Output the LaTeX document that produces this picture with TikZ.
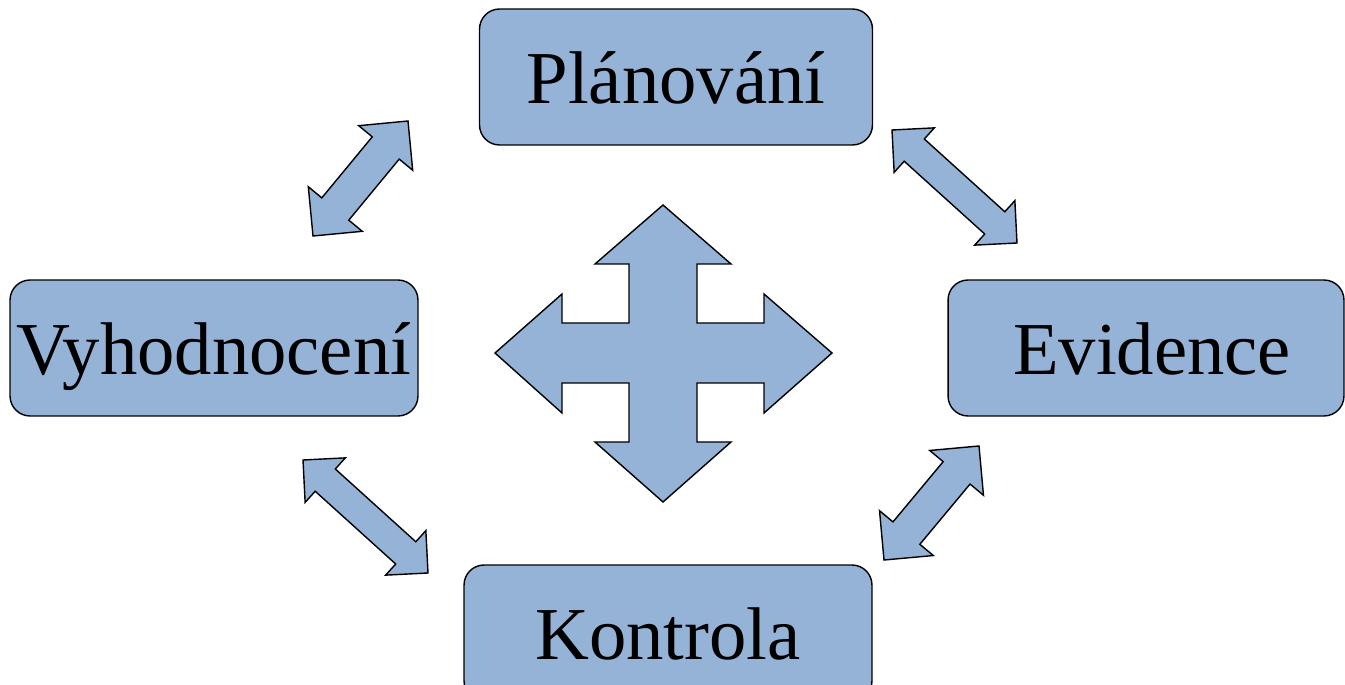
\documentclass[tikz,border=0pt]{standalone}
\usepackage{fontspec}
\setmainfont{Liberation Serif}
\usetikzlibrary{calc}
\definecolor{boxfill}{HTML}{95B3D7}

% double block arrow between two tips: head length/half width, shaft half width
\newcommand{\dblarrow}[4]{%
  \coordinate (h1) at ($(#1)!#3!(#2)$);
  \coordinate (h2) at ($(#2)!#3!(#1)$);
  \draw[blockarrow] (#1) -- ($(h1)!#3!90:(#2)$) -- ($(h1)!#4!90:(#2)$)
    -- ($(h2)!#4!-90:(#1)$) -- ($(h2)!#3!-90:(#1)$) -- (#2)
    -- ($(h2)!#3!90:(#1)$) -- ($(h2)!#4!90:(#1)$)
    -- ($(h1)!#4!-90:(#2)$) -- ($(h1)!#3!-90:(#2)$) -- cycle;}

\begin{document}
\begin{tikzpicture}[x=0.02cm,y=-0.02cm,
  stage/.style={draw=black,fill=boxfill,line width=0.8pt,rounded corners=0.4cm,
    minimum height=2.72cm,inner sep=0pt,text height=1.07cm,text depth=0pt,
    font=\fontsize{42.5}{50}\selectfont},
  blockarrow/.style={draw=black,fill=boxfill,line width=0.8pt}]
  \useasboundingbox (0,0) rectangle (1345,685);

  % the four stages
  \node[stage,minimum width=7.86cm] (plan) at (676,77) {Plánování};
  \node[stage,minimum width=8.16cm] (vyh) at (214,348) {Vyhodnocení};
  \node[stage,minimum width=7.92cm] (evi) at (1146,348) {\hspace{0.24cm}Evidence};
  \node[stage,minimum width=8.16cm] (kon) at (668,633) {Kontrola};

  % central four-way arrow
  \draw[blockarrow] (663,205) -- (731,264) -- (697,264) -- (697,323)
    -- (764,323) -- (764,294) -- (832,353) -- (764,413) -- (764,383)
    -- (697,383) -- (697,442) -- (731,442) -- (663,502) -- (595,442)
    -- (629,442) -- (629,383) -- (562,383) -- (562,413) -- (495,353)
    -- (562,294) -- (562,323) -- (629,323) -- (629,264) -- (595,264) -- cycle;

  % arrow tips between the stages
  \coordinate (vyA) at (313,236);
  \coordinate (plA) at (408,121);
  \coordinate (plB) at (892,130);
  \coordinate (evA) at (1017,243);
  \coordinate (evB) at (979,446);
  \coordinate (koA) at (884,560);
  \coordinate (koB) at (428,573);
  \coordinate (vyB) at (303,460);

  \dblarrow{vyA}{plA}{0.7cm}{0.35cm}
  \dblarrow{plB}{evA}{0.6cm}{0.3cm}
  \dblarrow{koA}{evB}{0.7cm}{0.35cm}
  \dblarrow{vyB}{koB}{0.6cm}{0.3cm}
\end{tikzpicture}
\end{document}
